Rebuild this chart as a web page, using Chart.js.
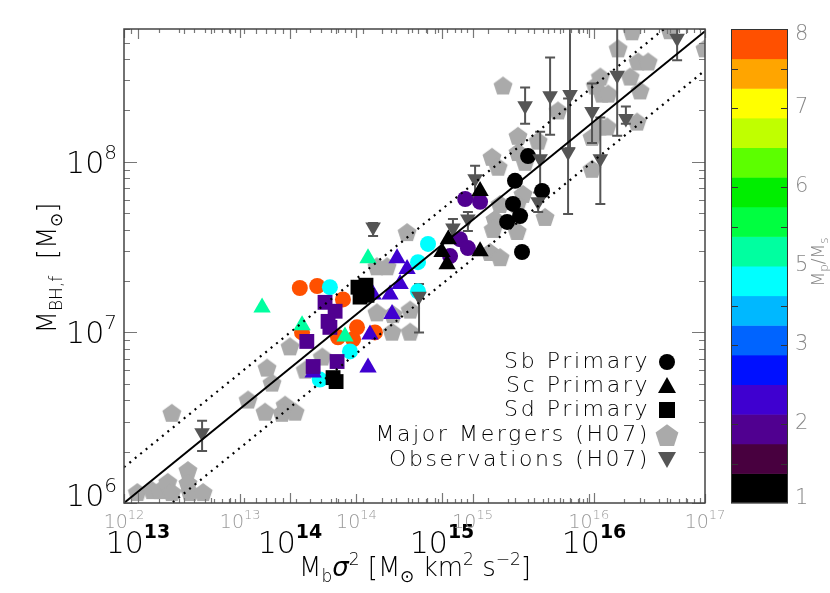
<!DOCTYPE html>
<html>
<head>
<meta charset="utf-8">
<script src="https://cdn.jsdelivr.net/npm/chart.js@4.4.0/dist/chart.umd.min.js"></script>
<style>
  body { margin: 0; background: #fff; }
  #wrap { width: 830px; height: 593px; position: relative; }
</style>
</head>
<body>
<div id="wrap"><canvas id="myChart"></canvas></div>
<script>
// axis ranges (M_b sigma^2 and M_BH,f)
const xRange = [8.09e12, 5.37e16];
const yRange = [1e6, 6.0e8];

// Sb primary (circles), colour band of Mp/Ms
const sbX = [1.16e14, 1.51e14, 2.23e14, 2.76e14, 3.62e14, 2.07e14, 2.60e14, 1.20e14, 1.83e14, 2.48e14, 1.57e14, 6.95e14, 6.95e14, 8.09e14,
             1.42e15, 1.78e15, 1.31e15, 1.48e15, 1.13e15, 3.68e15, 3.02e15, 4.55e15, 2.93e15, 3.26e15, 2.68e15, 3.36e15];
const sbY = [1.82e7, 1.87e7, 1.56e7, 1.07e7, 1.0e7, 9.35e6, 9.10e6, 1.0e7, 1.84e7, 7.73e6, 5.29e6, 2.58e7, 1.74e7, 3.30e7,
             6.05e7, 5.82e7, 3.52e7, 3.12e7, 2.80e7, 1.08e8, 7.73e7, 6.75e7, 5.66e7, 4.81e7, 4.44e7, 2.96e7];
const sbBand = [15, 15, 15, 15, 15, 15, 15, 15, 7, 7, 7, 7, 7, 7, 2, 2, 2, 2, 2, 0, 0, 0, 0, 0, 0, 0];

// Sc primary (triangles)
const scX = [6.55e13, 1.20e14, 2.30e14, 3.26e14, 5.06e14, 5.89e14, 4.55e14, 5.30e14, 4.69e14, 3.36e14, 3.26e14, 1.42e14, 3.52e14,
             1.78e15, 1.78e15, 1.0e15, 1.10e15, 1.08e15];
const scY = [1.40e7, 1.10e7, 9.47e6, 2.72e7, 2.72e7, 2.35e7, 1.67e7, 1.92e7, 1.28e7, 9.73e6, 6.22e6, 5.82e6, 1.67e7,
             6.75e7, 2.99e7, 2.96e7, 3.52e7, 2.51e7];
const scBand = [8, 8, 8, 8, 3, 3, 3, 3, 3, 3, 3, 3, 3, 0, 0, 0, 0, 0];

// Sd primary (squares)
const sdX = [1.70e14, 1.98e14, 1.78e14, 1.83e14, 1.29e14, 1.42e14, 2.04e14, 2.80e14, 3.16e14, 2.89e14, 3.21e14, 1.92e14, 2.01e14];
const sdY = [1.50e7, 1.33e7, 1.16e7, 1.07e7, 8.85e6, 6.31e6, 6.75e6, 1.84e7, 1.89e7, 1.61e7, 1.65e7, 5.43e6, 5.15e6];
const sdBand = [2, 2, 2, 2, 2, 2, 2, 0, 0, 0, 0, 0, 0];

// Major mergers (H07)
const pentX = [9.9e12, 1.24e13, 1.40e13, 1.57e13, 1.67e13, 2.13e13, 2.13e13, 2.20e13, 2.68e13, 1.67e13,
               5.30e13, 6.85e13, 9.28e13, 1.08e14, 8.85e13, 7.62e13, 7.06e13, 1.0e14, 1.63e14, 1.26e14,
               3.73e14, 4.76e14, 3.73e14, 4.35e14, 5.89e14, 6.17e14, 4.69e14, 6.17e14,
               2.52e15, 5.79e15, 3.16e15, 4.29e15, 2.13e15, 2.34e15, 3.16e15, 3.52e15, 3.41e15, 3.12e15,
               2.41e15, 2.23e15, 2.17e15, 3.12e15, 2.07e15, 2.41e15, 4.76e15, 9.70e15, 9.70e15, 1.10e16,
               1.22e16, 1.02e16, 1.13e16, 1.24e16, 1.10e16, 1.44e16, 1.73e16, 1.95e16, 2.27e16, 2.01e16,
               1.92e16, 1.78e16, 3.16e16, 5.37e16];
const pentY = [1.16e6, 1.19e6, 1.19e6, 1.33e6, 1.16e6, 1.56e6, 1.31e6, 1.16e6, 1.16e6, 3.38e6,
               4.04e6, 3.43e6, 3.77e6, 3.43e6, 3.38e6, 5.08e6, 6.22e6, 8.28e6, 7.22e6, 6.05e6,
               1.31e7, 1.28e7, 2.44e7, 2.44e7, 3.87e7, 1.36e7, 1.01e7, 1.01e7,
               2.80e8, 2.0e8, 1.42e8, 1.33e8, 1.07e8, 9.35e7, 1.14e8, 1.0e8, 6.48e7, 5.66e7,
               5.66e7, 4.62e7, 4.04e7, 3.93e7, 2.96e7, 2.76e7, 4.75e7, 9.10e7, 1.40e8, 1.61e8,
               1.61e8, 2.80e8, 2.51e8, 2.51e8, 3.16e8, 4.62e8, 3.16e8, 3.87e8, 3.87e8, 2.62e8,
               1.72e8, 5.82e8, 5.9e8, 4.62e8];

// Observations (H07) with error bars
const obsX  = [2.64e13, 3.52e14, 7.06e14, 1.18e15, 1.48e15, 1.65e15, 3.52e15, 5.14e15, 6.95e15, 6.75e15, 4.42e15, 4.29e15, 9.70e15, 1.10e16, 1.42e16, 1.62e16, 3.52e16];
const obsY  = [2.58e6, 4.15e7, 1.63e7, 4.09e7, 4.62e7, 7.94e7, 2.13e8, 2.44e8, 2.48e8, 1.14e8, 1.04e8, 5.82e7, 1.97e8, 1.04e8, 3.21e8, 1.79e8, 5.3e8];
const obsHi = [3.03e6, 4.38e7, 1.92e7, 4.62e7, 5.08e7, 9.47e7, 2.72e8, 4.09e8, 9e8, 2.35e8, 1.50e8, 6.6e7, 2.88e8, 1.82e8, 9e8, 2.11e8, 9e8];
const obsLo = [2.02e6, 3.67e7, 1.0e7, 3.72e7, 3.93e7, 6.22e7, 1.67e8, 1.44e8, 1.2e8, 4.94e7, 7.0e7, 5.08e7, 1.29e8, 5.66e7, 1.42e8, 1.67e8, 3.93e8];

// fit relation and scatter
const fitX = [8.09e12, 5.37e16];
const fitY = [1.0e6, 5.82e8];
const fitUpperY = [1.62e6, 9.4e8];
const fitLowerY = [5.9e5, 3.43e8];

// colour bar (bottom to top) and its labels
const cbColors = ['#000000', '#48003f', '#500090', '#3f00d0', '#0010ff', '#0064ff', '#00b8ff', '#00ffff',
                  '#00ffa0', '#00ff40', '#00ee00', '#5cff00', '#c0ff00', '#ffff00', '#ffa500', '#ff5000'];
const cbLabels = ['1', '2', '3', '5', '6', '7', '8'];

const legendNames = ['Sb Primary', 'Sc Primary', 'Sd Primary', 'Major Mergers (H07)', 'Observations (H07)'];

const FF = '"DejaVu Sans", "Liberation Sans", sans-serif';
function font(size, style, weight) { return (style || '') + ' ' + (weight || '200') + ' ' + size + 'px ' + FF; }

function pts(xs, ys) { return xs.map((v, i) => ({x: v, y: ys[i]})); }

// pentagon marker
function pentagon(r, color) {
  const c = document.createElement('canvas');
  c.width = Math.ceil(2 * r + 2); c.height = Math.ceil(2 * r + 2);
  const g = c.getContext('2d');
  g.fillStyle = color;
  g.beginPath();
  for (let k = 0; k < 5; k++) {
    const a = -Math.PI / 2 + k * 2 * Math.PI / 5;
    const px = c.width / 2 + r * Math.cos(a), py = c.height / 2 + r * Math.sin(a) + r * 0.1;
    k ? g.lineTo(px, py) : g.moveTo(px, py);
  }
  g.closePath(); g.fill();
  return c;
}
const pentImg = pentagon(10, '#aaaaaa');

// parts: [text, size, dy, style, weight]
function drawRich(ctx, parts, x, y, align) {
  let w = 0;
  parts.forEach(p => { ctx.font = font(p[1], p[3], p[4]); w += ctx.measureText(p[0]).width; });
  let cx = align === 'right' ? x - w : align === 'center' ? x - w / 2 : x;
  ctx.textAlign = 'left';
  parts.forEach(p => {
    ctx.font = font(p[1], p[3], p[4]);
    ctx.fillText(p[0], cx, y + (p[2] || 0));
    cx += ctx.measureText(p[0]).width;
  });
}

function logTicks(min, max) {
  const out = [];
  for (let e = Math.floor(Math.log10(min)); e <= Math.ceil(Math.log10(max)); e++) {
    for (let m = 1; m < 10; m++) {
      const v = m * Math.pow(10, e);
      if (v >= min && v <= max) out.push({v: v, major: m === 1});
    }
  }
  return out;
}

const decor = {
  id: 'decor',
  afterDatasetDraw(chart, args) {
    // error bars go right above the merger pentagons
    if (chart.data.datasets[args.index].label !== 'Major Mergers (H07)') return;
    const ctx = chart.ctx, xs = chart.scales.x, ys = chart.scales.y, a = chart.chartArea;
    ctx.save();
    ctx.beginPath(); ctx.rect(a.left, a.top, a.right - a.left, a.bottom - a.top); ctx.clip();
    ctx.strokeStyle = '#555'; ctx.lineWidth = 2;
    obsX.forEach((v, i) => {
      const px = xs.getPixelForValue(v), t = ys.getPixelForValue(obsHi[i]), b = ys.getPixelForValue(obsLo[i]);
      ctx.beginPath();
      ctx.moveTo(px, t); ctx.lineTo(px, b);
      ctx.moveTo(px - 5, t); ctx.lineTo(px + 5, t);
      ctx.moveTo(px - 5, b); ctx.lineTo(px + 5, b);
      ctx.stroke();
    });
    ctx.restore();
  },
  afterDraw(chart) {
    const ctx = chart.ctx, xs = chart.scales.x, ys = chart.scales.y, a = chart.chartArea;
    ctx.save();
    // ticks
    ctx.strokeStyle = '#777'; ctx.lineWidth = 1.2;
    ctx.beginPath();
    logTicks(yRange[0], yRange[1]).forEach(t => {
      const py = Math.round(ys.getPixelForValue(t.v)) + 0.5, len = t.major ? 13 : 6;
      ctx.moveTo(a.left, py); ctx.lineTo(a.left + len, py);
      ctx.moveTo(a.right, py); ctx.lineTo(a.right - len, py);
    });
    logTicks(xRange[0], xRange[1]).forEach(t => {
      const px = Math.round(xs.getPixelForValue(t.v)) + 0.5, len = t.major ? 10 : 5;
      ctx.moveTo(px, a.bottom); ctx.lineTo(px, a.bottom - len);
      ctx.moveTo(px, a.top); ctx.lineTo(px, a.top + len);
    });
    // second (overlaid) bottom/top axis from 1e12 to 1e17
    logTicks(1e12, 1e17).forEach(t => {
      const px = Math.round(a.left + (Math.log10(t.v) - 12) / 5 * (a.right - a.left)) + 0.5, len = t.major ? 9 : 4;
      ctx.moveTo(px, a.bottom); ctx.lineTo(px, a.bottom - len);
      ctx.moveTo(px, a.top); ctx.lineTo(px, a.top + len);
    });
    ctx.stroke();
    // frame
    ctx.strokeStyle = '#444'; ctx.lineWidth = 1.5;
    ctx.strokeRect(a.left, a.top, a.right - a.left, a.bottom - a.top);

    // tick labels
    ctx.fillStyle = '#000';
    [6, 7, 8].forEach(e => {
      const py = ys.getPixelForValue(Math.pow(10, e));
      drawRich(ctx, [['10', 30], [String(e), 20, -14]], 117, Math.min(py + 11, a.bottom + 3), 'right');
    });
    [13, 14, 15, 16].forEach(e => {
      drawRich(ctx, [['10', 30], [String(e), 19, -15, '', 'bold']], xs.getPixelForValue(Math.pow(10, e)), 553, 'center');
    });
    ctx.fillStyle = '#999';
    [12, 13, 14, 15, 16, 17].forEach(e => {
      const px = a.left + (e - 12) / 5 * (a.right - a.left);
      drawRich(ctx, [['10', 19], [String(e), 13, -9]], px, 528, 'center');
    });

    // axis titles
    ctx.fillStyle = '#000';
    drawRich(ctx, [['M', 26], ['b', 17, 6], ['σ', 26, 0, 'italic'], ['2', 17, -11], [' [M', 26], ['⊙', 17, 6],
                   [' km', 26], ['2', 17, -11], [' s', 26], ['−2', 17, -11], [']', 26]], 415, 576, 'center');
    ctx.save();
    ctx.translate(56, 268); ctx.rotate(-Math.PI / 2);
    drawRich(ctx, [['M', 26], ['BH,f', 17, 6], ['  [M', 26], ['⊙', 17, 6], [']', 26]], 0, 0, 'center');
    ctx.restore();

    // legend
    const lx = 667, lys = [362, 386, 410, 435, 460];
    ctx.fillStyle = '#000';
    ctx.font = font(22);
    if ('letterSpacing' in ctx) ctx.letterSpacing = '2.6px';
    ctx.textAlign = 'right'; ctx.textBaseline = 'middle';
    legendNames.forEach((n, i) => ctx.fillText(n, 650, lys[i]));
    if ('letterSpacing' in ctx) ctx.letterSpacing = '0px';
    ctx.textBaseline = 'alphabetic';
    ctx.fillStyle = '#000';
    ctx.beginPath(); ctx.arc(lx, lys[0], 8, 0, 2 * Math.PI); ctx.fill();
    ctx.beginPath(); ctx.moveTo(lx, lys[1] - 9); ctx.lineTo(lx + 9, lys[1] + 7); ctx.lineTo(lx - 9, lys[1] + 7); ctx.fill();
    ctx.fillRect(lx - 8, lys[2] - 8, 16, 16);
    ctx.drawImage(pentagon(12, '#aaaaaa'), lx - 13, lys[3] - 13);
    ctx.fillStyle = '#555';
    ctx.beginPath(); ctx.moveTo(lx - 9, lys[4] - 8); ctx.lineTo(lx + 9, lys[4] - 8); ctx.lineTo(lx, lys[4] + 8); ctx.fill();

    // colour bar
    const cbL = 731, cbR = 788, cbT = a.top, cbB = a.bottom, bh = (cbB - cbT) / cbColors.length;
    cbColors.forEach((c, i) => {
      ctx.fillStyle = c;
      ctx.fillRect(cbL, cbB - (i + 1) * bh, cbR - cbL, bh + 0.5);
    });
    ctx.strokeStyle = '#333'; ctx.lineWidth = 1;
    ctx.strokeRect(cbL + 0.5, cbT + 0.5, cbR - cbL - 1, cbB - cbT - 1);
    const step = (cbB - cbT) / 12;
    ctx.beginPath();
    for (let k = 1; k < 12; k++) {
      if (k % 3 === 0) continue;
      const py = Math.round(cbB - k * step) + 0.5;
      ctx.moveTo(cbL, py); ctx.lineTo(cbL + 7, py);
      ctx.moveTo(cbR, py); ctx.lineTo(cbR - 7, py);
    }
    ctx.stroke();
    ctx.fillStyle = '#888'; ctx.font = font(21); ctx.textAlign = 'left'; ctx.textBaseline = 'middle';
    cbLabels.forEach((l, i) => {
      const py = Math.max(cbT + 6, Math.min(cbB - 4, cbB - i * 2 * step));
      ctx.fillText(l, 795, py);
    });
    ctx.textBaseline = 'alphabetic';
    ctx.save();
    ctx.translate(824, 262); ctx.rotate(-Math.PI / 2);
    drawRich(ctx, [['M', 17], ['p', 12, 4], ['/M', 17], ['s', 12, 4]], 0, 0, 'center');
    ctx.restore();
    ctx.restore();
  }
};

const ctx = document.getElementById('myChart');

const chart = new Chart(ctx, {
  type: 'scatter',
  data: {
    datasets: [
      { label: 'fit', data: pts(fitX, fitY), showLine: true, borderColor: '#000', borderWidth: 2, pointRadius: 0, order: 0, clip: 0 },
      { label: 'upper', data: pts(fitX, fitUpperY), showLine: true, borderColor: '#000', borderWidth: 2.2, borderDash: [2, 5], pointRadius: 0, order: 0, clip: 0 },
      { label: 'lower', data: pts(fitX, fitLowerY), showLine: true, borderColor: '#000', borderWidth: 2.2, borderDash: [2, 5], pointRadius: 0, order: 0, clip: 0 },
      { label: 'Observations (H07)', data: pts(obsX, obsY), pointStyle: 'triangle', rotation: 180, radius: 9,
        backgroundColor: '#555', borderWidth: 0, order: 1, clip: 0 },
      { label: 'Sd Primary', data: pts(sdX, sdY), pointStyle: 'rect', radius: 10.5,
        backgroundColor: sdBand.map(b => cbColors[b]), borderWidth: 0, order: 2, clip: 0 },
      { label: 'Sc Primary', data: pts(scX, scY), pointStyle: 'triangle', radius: 10,
        backgroundColor: scBand.map(b => cbColors[b]), borderWidth: 0, order: 3, clip: 0 },
      { label: 'Sb Primary', data: pts(sbX, sbY), pointStyle: 'circle', radius: 8,
        backgroundColor: sbBand.map(b => cbColors[b]), borderWidth: 0, order: 4, clip: 0 },
      { label: 'Major Mergers (H07)', data: pts(pentX, pentY), pointStyle: pentImg, order: 9, clip: 0 }
    ]
  },
  options: {
    responsive: true,
    maintainAspectRatio: false,
    animation: false,
    devicePixelRatio: 1,
    layout: { padding: { left: 124, top: 29, right: 125, bottom: 90 } },
    scales: {
      x: { type: 'logarithmic', min: xRange[0], max: xRange[1], display: false },
      y: { type: 'logarithmic', min: yRange[0], max: yRange[1], display: false }
    },
    plugins: { legend: false, tooltip: { enabled: false } },
    events: []
  },
  plugins: [decor]
});
</script>
</body>
</html>
